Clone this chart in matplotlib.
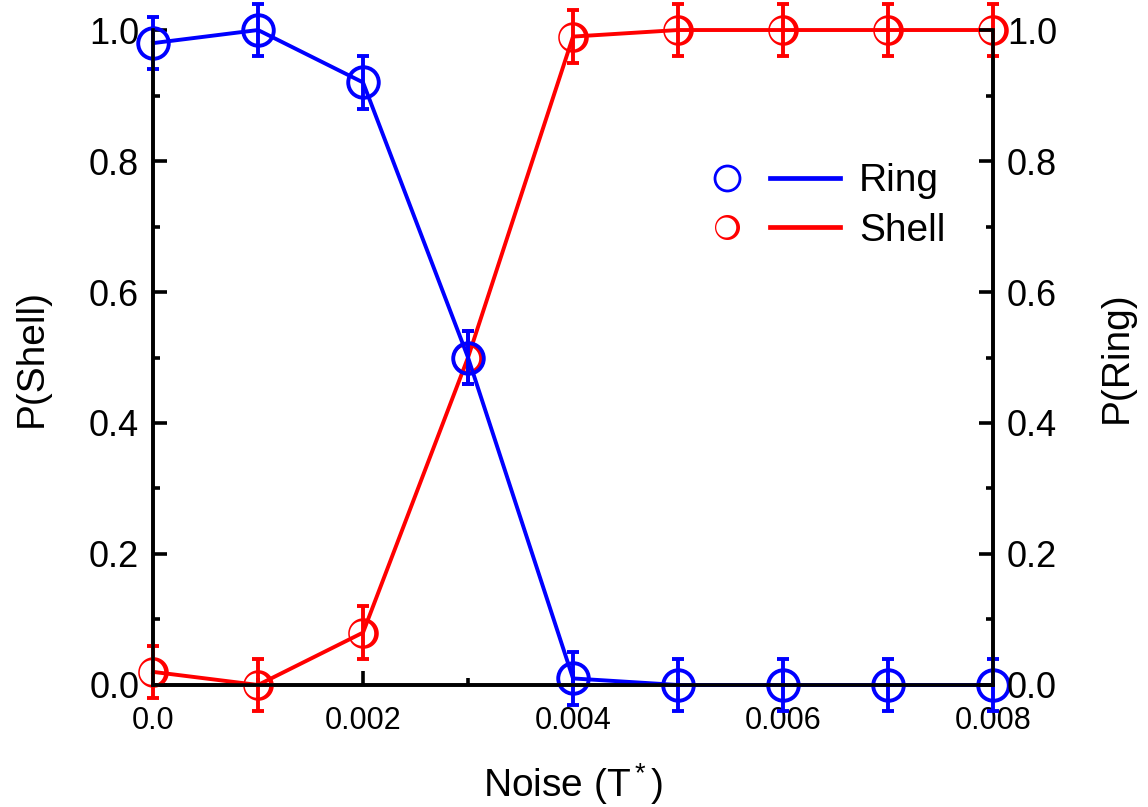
import numpy as np
import matplotlib
matplotlib.use("Agg")
import matplotlib.pyplot as plt
from matplotlib.path import Path
from matplotlib.legend_handler import HandlerTuple
from matplotlib.lines import Line2D

plt.rcParams['font.family'] = ['Liberation Sans', 'DejaVu Sans']
plt.rcParams['mathtext.fontset'] = 'custom'
plt.rcParams['mathtext.rm'] = 'Liberation Sans'
plt.rcParams['mathtext.it'] = 'Liberation Sans'

noise = [0.0, 0.001, 0.002, 0.003, 0.004, 0.005, 0.006, 0.007, 0.008]
p_ring = [0.98, 1.0, 0.92, 0.5, 0.01, 0.0, 0.0, 0.0, 0.0]
p_shell = [0.02, 0.0, 0.08, 0.5, 0.99, 1.0, 1.0, 1.0, 1.0]
ring_err = [0.04, 0.04, 0.04, 0.04, 0.04, 0.04, 0.04, 0.04, 0.04]
shell_err = [0.04, 0.04, 0.04, 0.04, 0.04, 0.04, 0.04, 0.04, 0.04]

xticks = [0.0, 0.002, 0.004, 0.006, 0.008]
xtick_labels = ["0.0", "0.002", "0.004", "0.006", "0.008"]
yticks = [0.0, 0.2, 0.4, 0.6, 0.8, 1.0]
ytick_labels = ["0.0", "0.2", "0.4", "0.6", "0.8", "1.0"]

# crescent marker: thin on the left, thick on the right
t = np.linspace(0, 2 * np.pi, 120)
outer = np.column_stack([np.cos(t), np.sin(t)])
inner = np.column_stack([-0.1 + 0.8 * np.cos(t[::-1]), 0.8 * np.sin(t[::-1])])
verts = np.vstack([outer, inner])
codes = ([Path.MOVETO] + [Path.LINETO] * (len(t) - 2) + [Path.CLOSEPOLY]) * 2
crescent = Path(verts, codes)

fig = plt.figure(figsize=(11.48, 8.07), dpi=100)
ax = fig.add_axes([0.1333, 0.1512, 0.7317, 0.8116])
ax2 = ax.twinx()

ms = 22
lw = 2.8

# shell (red)
ax.errorbar(noise, p_shell, yerr=shell_err, fmt='none', ecolor='red', elinewidth=lw,
            capsize=4, capthick=lw, clip_on=False, zorder=3)
ax.plot(noise, p_shell, color='red', lw=lw, marker=crescent, ms=ms, mfc='red',
        mec='none', mew=0, clip_on=False, zorder=3)

# ring (blue)
ax.errorbar(noise, p_ring, yerr=ring_err, color='blue', lw=lw, elinewidth=lw,
            capsize=4, capthick=lw, marker='o', ms=ms, mfc='none', mec='blue',
            mew=lw, clip_on=False, zorder=4)

ax.set_xlim(0, 0.008)
ax.set_ylim(0, 1.0)
ax2.set_ylim(0, 1.0)

for a in (ax, ax2):
    a.spines['top'].set_visible(False)
    for s in ('left', 'right', 'bottom'):
        a.spines[s].set_linewidth(2.6)

ax.set_xticks(xticks)
ax.set_xticklabels(xtick_labels)
ax.set_xticks(np.arange(0.001, 0.008, 0.002), minor=True)
ax.set_yticks(yticks)
ax.set_yticklabels(ytick_labels)
ax.set_yticks(np.arange(0.1, 1.0, 0.2), minor=True)
ax2.set_yticks(yticks)
ax2.set_yticklabels(ytick_labels)
ax2.set_yticks(np.arange(0.1, 1.0, 0.2), minor=True)

ax.tick_params(axis='x', which='major', direction='in', length=10, width=2.6,
               labelsize=22, pad=15)
ax.tick_params(axis='x', which='minor', direction='in', length=5, width=2.6)
ax.tick_params(axis='y', which='major', direction='in', length=10, width=2.6,
               labelsize=26, pad=10)
ax.tick_params(axis='y', which='minor', direction='in', length=5, width=2.6)
ax2.tick_params(axis='y', which='major', direction='in', length=10, width=2.6,
                labelsize=26, pad=10)
ax2.tick_params(axis='y', which='minor', direction='in', length=5, width=2.6)

ax.set_xlabel("Noise (T$^*$)", fontsize=28, labelpad=18)
ax.set_ylabel("P(Shell)", fontsize=28, labelpad=28)
ax2.set_ylabel("P(Ring)", fontsize=28, labelpad=30, rotation=90)

# legend: marker then line then label
ring_m = Line2D([], [], ls='none', marker='o', ms=18, mfc='none', mec='blue', mew=2)
ring_l = Line2D([], [], color='blue', lw=3.4)
shell_m = Line2D([], [], ls='none', marker=crescent, ms=18, mfc='red', mec='none', mew=0)
shell_l = Line2D([], [], color='red', lw=3.4)
leg = ax.legend([(ring_m, ring_l), (shell_m, shell_l)], ["Ring", "Shell"],
                handler_map={tuple: HandlerTuple(ndivide=None, pad=0.2)},
                loc='upper left', bbox_to_anchor=(0.6, 0.85), frameon=False,
                fontsize=28, handlelength=3.8, handletextpad=0.5, labelspacing=0.35)

fig.savefig("out.png", dpi=100)
